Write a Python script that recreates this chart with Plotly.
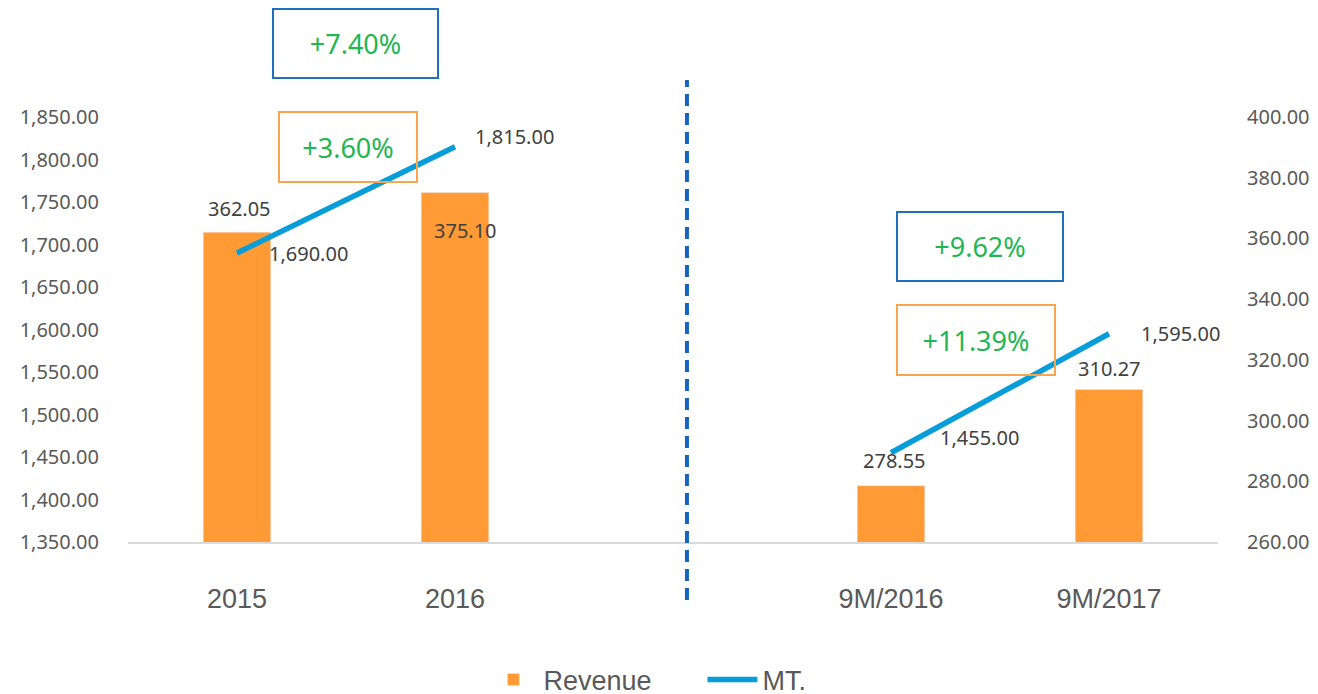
import plotly.graph_objects as go

categories = ["2015", "2016", "", "9M/2016", "9M/2017"]
revenue = [362.05, 375.10, None, 278.55, 310.27]
mt = [1690.00, 1815.00, None, 1455.00, 1595.00]
growth_labels = ["+7.40%", "+3.60%", "+9.62%", "+11.39%"]

pos = list(range(len(categories)))

ORANGE = "#FF9A35"
LINE_BLUE = "#069DD9"
BOX_BLUE = "#1F6FC0"
BOX_ORANGE = "#F9A550"
GREEN = "#22B652"
TXT = "#404040"
AX = "#595959"

fig = go.Figure()
fig.add_trace(go.Bar(x=pos, y=revenue, name="Revenue", marker_color=ORANGE,
                     width=0.31, yaxis="y"))
fig.add_trace(go.Scatter(x=pos, y=mt, name="MT.", mode="lines",
                         line=dict(color=LINE_BLUE, width=5.5), connectgaps=False, yaxis="y2"))

# data labels
bar_shift = [(2, 24), (10, -38), None, (3, 25), (0, 21)]
for p, v, s in zip(pos, revenue, bar_shift):
    if v is None:
        continue
    fig.add_annotation(x=p, y=v, xref="x", yref="y", text=f"{v:,.2f}", showarrow=False,
                       xanchor="center", yanchor="middle",
                       xshift=s[0], yshift=s[1], font=dict(size=20, color=TXT, family="Noto Sans"))
line_shift = [(71, 0), (59, 10), None, (88, 15), (71, 0)]
for p, v, s in zip(pos, mt, line_shift):
    if v is None:
        continue
    fig.add_annotation(x=p, y=v, xref="x", yref="y2", text=f"{v:,.2f}", showarrow=False,
                       xanchor="center", yanchor="middle",
                       xshift=s[0], yshift=s[1], font=dict(size=20, color=TXT, family="Noto Sans"))

# growth boxes
boxes = [
    (0.2083, 1.173, 163, 67, BOX_BLUE),
    (0.2015, 0.929, 136, 68, BOX_ORANGE),
    (0.782, 0.695, 164, 67, BOX_BLUE),
    (0.778, 0.475, 156, 68, BOX_ORANGE),
]
for t, (bx, by, w, h, bc) in zip(growth_labels, boxes):
    fig.add_annotation(x=bx, y=by, xref="paper", yref="paper", text=t, showarrow=False,
                       xanchor="center", yanchor="middle",
                       width=w, height=h, bordercolor=bc, borderwidth=2, borderpad=0,
                       bgcolor="rgba(255,255,255,0)", align="center", valign="middle",
                       font=dict(size=27, color=GREEN, family="Noto Sans"))

# dashed divider
fig.add_shape(type="line", xref="paper", yref="paper", x0=0.5128, x1=0.5128, y0=-0.1365, y1=1.087,
              line=dict(color="#1565C0", width=4, dash="12px,7px"))

fig.update_layout(
    width=1318, height=694,
    margin=dict(l=118, r=108, t=109, b=160),
    plot_bgcolor="white", paper_bgcolor="white",
    showlegend=True,
    legend=dict(orientation="h", x=0.527, xanchor="center", xref="paper",
                y=0.0317, yanchor="middle", yref="container",
                font=dict(size=27, color=AX, family="Liberation Sans"), itemwidth=50,
                entrywidth=154, traceorder="normal"),
    xaxis=dict(range=[-0.5, len(categories) - 0.5], tickmode="array", tickvals=pos,
               ticktext=categories, showgrid=False, zeroline=False,
               showline=True, linecolor="#D9D9D9", linewidth=2,
               ticks="outside", ticklen=32, tickcolor="rgba(0,0,0,0)",
               tickfont=dict(size=27, color=AX, family="Liberation Sans Narrow, Liberation Sans")),
    yaxis=dict(side="right", range=[260, 400], dtick=20, tickformat=",.2f", showgrid=False,
               zeroline=False, ticklabelstandoff=28,
               tickfont=dict(size=20, color=AX, family="Noto Sans")),
    yaxis2=dict(side="left", overlaying="y", range=[1350, 1850], dtick=50, tickformat=",.2f",
                showgrid=False, zeroline=False, ticklabelstandoff=28,
                tickfont=dict(size=20, color=AX, family="Noto Sans")),
)

fig.write_html("out.html")
